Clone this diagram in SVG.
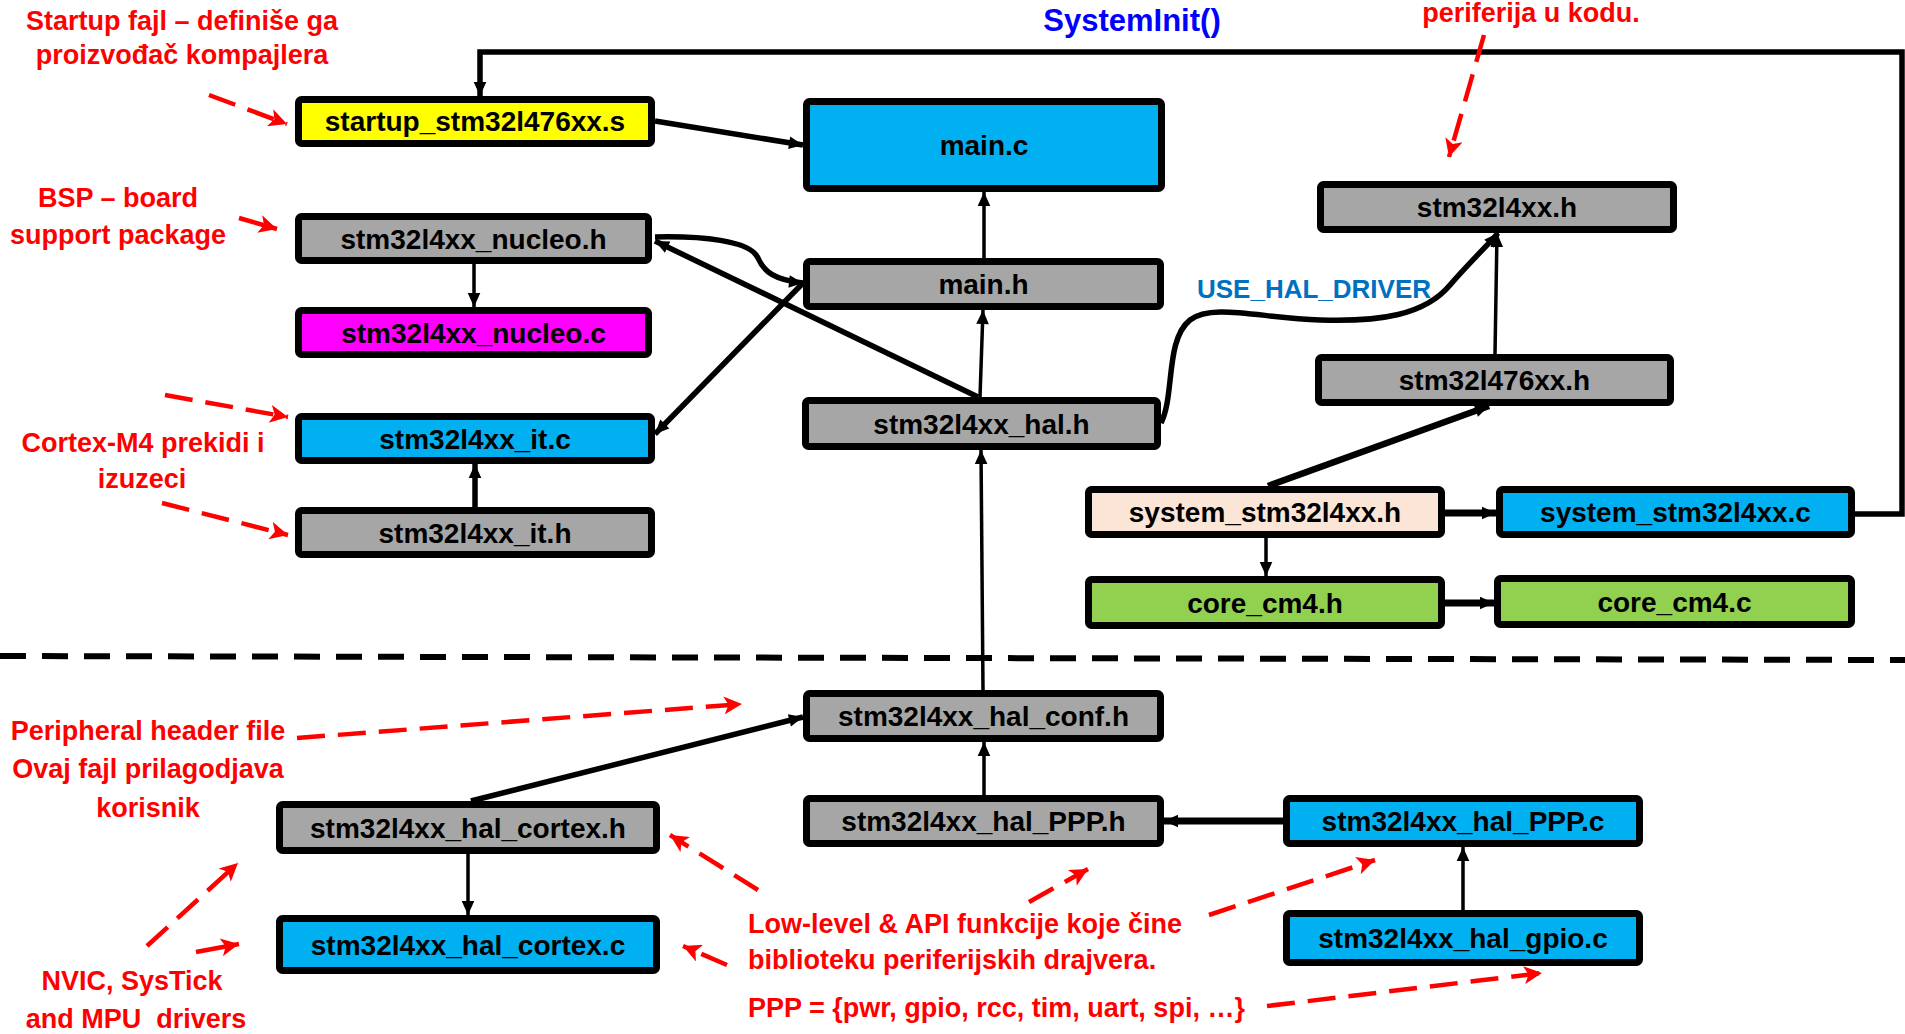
<svg xmlns="http://www.w3.org/2000/svg" width="1905" height="1034" viewBox="0 0 1905 1034">
<style>
.n rect{stroke:#000;stroke-width:7;}
.n text{font-family:"Liberation Sans",Arial,sans-serif;font-weight:bold;font-size:28px;text-anchor:middle;fill:#000;}
.gray{fill:#A6A6A6}.blue{fill:#00B0F0}.yel{fill:#FFFF00}.mag{fill:#FF00FF}.grn{fill:#92D050}.peach{fill:#FBE5D6}
.c path{fill:none;stroke:#000;}
.t3{stroke-width:3.5;marker-end:url(#ah)}
.t5{stroke-width:5.5;marker-end:url(#ah)}
.r path{fill:none;stroke:#FF0000;stroke-width:4.5;stroke-dasharray:28 13;marker-end:url(#rh)}
.lbl{font-family:"Liberation Sans",Arial,sans-serif;font-weight:bold;font-size:27px;fill:#FF0000;text-anchor:middle;white-space:pre}
</style>
<defs>
<marker id="ah" viewBox="0 0 10 10" refX="10" refY="5" markerWidth="15" markerHeight="14" markerUnits="userSpaceOnUse" orient="auto"><path d="M0,0.5 L10,5 L0,9.5 z" fill="#000"/></marker>
<marker id="rh" viewBox="0 0 10 10" refX="10" refY="5" markerWidth="20" markerHeight="18" markerUnits="userSpaceOnUse" orient="auto"><path d="M0,0 L10,5 L0,10 L2.5,5 z" fill="#FF0000"/></marker>
</defs>

<!-- dashed separator -->
<path d="M0,656 L1905,660" stroke="#000" stroke-width="6" stroke-dasharray="26 16" fill="none"/>

<g class="c" id="connectors">
<path class="t5" d="M1855,514 H1902 V52 H480 V96"/>
<path class="t5" d="M655,121 L803,145"/>
<path class="t3" d="M984,258 L984,192"/>
<path class="t3" d="M980,397 L983,310"/>
<path class="t3" d="M983,690 L981,450"/>
<path class="t3" d="M984,795 L984,742"/>
<path class="t5" style="stroke-width:7" d="M1283,821 L1164,821"/>
<path class="t3" d="M1463,910 L1463,847"/>
<path class="t3" d="M468,854 L468,915"/>
<path class="t5" d="M471,801 L803,717"/>
<path class="t3" d="M474,264 L474,307"/>
<path class="t5" d="M475,507 L475,464"/>
<path class="t5" d="M803,283 L655,434"/>
<path class="t5" d="M978,397 L655,241"/>
<path class="t5" d="M655,237 C700,236 750,240 758,258 C764,272 775,280 803,283"/>
<path class="t5" d="M1161,423 C1175,395 1165,340 1190,320 C1212,303 1260,318 1320,320 C1380,322 1425,315 1450,285 C1470,262 1488,245 1498,233"/>
<path class="t3" d="M1495,354 L1497,233"/>
<path class="t5" style="stroke-width:6.5" d="M1268,486 L1489,406"/>
<path class="t5" style="stroke-width:7" d="M1445,513 L1496,513"/>
<path class="t3" d="M1266,538 L1266,576"/>
<path class="t5" style="stroke-width:7" d="M1445,603 L1494,603"/>
</g>

<g id="n-startup" class="n"><rect class="yel" x="298.5" y="99.5" width="353" height="44" rx="3"/><text x="475" y="131">startup_stm32l476xx.s</text></g>
<g id="n-mainc" class="n"><rect class="blue" x="806.5" y="101.5" width="355" height="87" rx="3"/><text x="984" y="155">main.c</text></g>
<g id="n-nucleoh" class="n"><rect class="gray" x="298.5" y="216.5" width="350" height="44" rx="3"/><text x="473.5" y="248.5">stm32l4xx_nucleo.h</text></g>
<g id="n-nucleoc" class="n"><rect class="mag" x="298.5" y="310.5" width="350" height="44" rx="3"/><text x="473.5" y="342.5">stm32l4xx_nucleo.c</text></g>
<g id="n-mainh" class="n"><rect class="gray" x="806.5" y="261.5" width="354" height="45" rx="3"/><text x="983.5" y="294">main.h</text></g>
<g id="n-4xxh" class="n"><rect class="gray" x="1320.5" y="184.5" width="353" height="45" rx="3"/><text x="1497" y="217">stm32l4xx.h</text></g>
<g id="n-476h" class="n"><rect class="gray" x="1318.5" y="357.5" width="352" height="45" rx="3"/><text x="1494.5" y="390">stm32l476xx.h</text></g>
<g id="n-halh" class="n"><rect class="gray" x="805.5" y="400.5" width="352" height="46" rx="3"/><text x="981.5" y="433.5">stm32l4xx_hal.h</text></g>
<g id="n-itc" class="n"><rect class="blue" x="298.5" y="416.5" width="353" height="44" rx="3"/><text x="475" y="448.5">stm32l4xx_it.c</text></g>
<g id="n-ith" class="n"><rect class="gray" x="298.5" y="510.5" width="353" height="44" rx="3"/><text x="475" y="542.5">stm32l4xx_it.h</text></g>
<g id="n-systemh" class="n"><rect class="peach" x="1088.5" y="489.5" width="353" height="45" rx="3"/><text x="1265" y="522">system_stm32l4xx.h</text></g>
<g id="n-systemc" class="n"><rect class="blue" x="1499.5" y="489.5" width="352" height="45" rx="3"/><text x="1675.5" y="522">system_stm32l4xx.c</text></g>
<g id="n-coreh" class="n"><rect class="grn" x="1088.5" y="579.5" width="353" height="46" rx="3"/><text x="1265" y="612.5">core_cm4.h</text></g>
<g id="n-corec" class="n"><rect class="grn" x="1497.5" y="578.5" width="354" height="46" rx="3"/><text x="1674.5" y="611.5">core_cm4.c</text></g>
<g id="n-conf" class="n"><rect class="gray" x="806.5" y="693.5" width="354" height="45" rx="3"/><text x="983.5" y="726">stm32l4xx_hal_conf.h</text></g>
<g id="n-cortexh" class="n"><rect class="gray" x="279.5" y="804.5" width="377" height="46" rx="3"/><text x="468" y="837.5">stm32l4xx_hal_cortex.h</text></g>
<g id="n-cortexc" class="n"><rect class="blue" x="279.5" y="918.5" width="377" height="52" rx="3"/><text x="468" y="954.5">stm32l4xx_hal_cortex.c</text></g>
<g id="n-ppph" class="n"><rect class="gray" x="806.5" y="798.5" width="354" height="45" rx="3"/><text x="983.5" y="831">stm32l4xx_hal_PPP.h</text></g>
<g id="n-pppc" class="n"><rect class="blue" x="1286.5" y="798.5" width="353" height="45" rx="3"/><text x="1463" y="831">stm32l4xx_hal_PPP.c</text></g>
<g id="n-gpioc" class="n"><rect class="blue" x="1286.5" y="913.5" width="353" height="49" rx="3"/><text x="1463" y="948">stm32l4xx_hal_gpio.c</text></g>

<g class="r" id="annotation-arrows">
<path d="M209,95 L287,124"/>
<path style="stroke-dasharray:none" d="M239,218 L277,229"/>
<path d="M1484,35 L1449,157"/>
<path d="M165,395 L288,417"/>
<path d="M162,503 L288,535"/>
<path d="M297,738 L742,704"/>
<path d="M147,946 L238,863"/>
<path style="stroke-dasharray:none" d="M196,952 L239,944"/>
<path d="M758,890 L670,835"/>
<path d="M727,965 L683,946"/>
<path d="M1029,902 L1088,869"/>
<path d="M1209,915 L1375,860"/>
<path d="M1267,1006 L1542,973"/>
</g>

<g id="labels">
<text class="lbl" x="182" y="30">Startup fajl – definiše ga</text>
<text class="lbl" x="182" y="64">proizvođač kompajlera</text>
<text class="lbl" x="118" y="207">BSP – board</text>
<text class="lbl" x="118" y="244">support package</text>
<text class="lbl" x="143" y="452">Cortex-M4 prekidi i</text>
<text class="lbl" x="142" y="488">izuzeci</text>
<text class="lbl" x="148" y="740">Peripheral header file</text>
<text class="lbl" x="148" y="778">Ovaj fajl prilagodjava</text>
<text class="lbl" x="148" y="817">korisnik</text>
<text class="lbl" x="132" y="990">NVIC, SysTick</text>
<text class="lbl" x="136" y="1028" xml:space="preserve">and MPU  drivers</text>
<text class="lbl" style="text-anchor:start" x="748" y="933">Low-level &amp; API funkcije koje čine</text>
<text class="lbl" style="text-anchor:start" x="748" y="969">biblioteku periferijskih drajvera.</text>
<text class="lbl" style="text-anchor:start" x="748" y="1017">PPP = {pwr, gpio, rcc, tim, uart, spi, …}</text>
<text class="lbl" x="1531" y="22">periferija u kodu.</text>
<text x="1132" y="31" style="font-family:'Liberation Sans',Arial,sans-serif;font-weight:bold;font-size:31px;fill:#0000FF;text-anchor:middle">SystemInit()</text>
<text x="1314" y="298" style="font-family:'Liberation Sans',Arial,sans-serif;font-weight:bold;font-size:26px;fill:#0070C0;text-anchor:middle">USE_HAL_DRIVER</text>
</g>
</svg>
